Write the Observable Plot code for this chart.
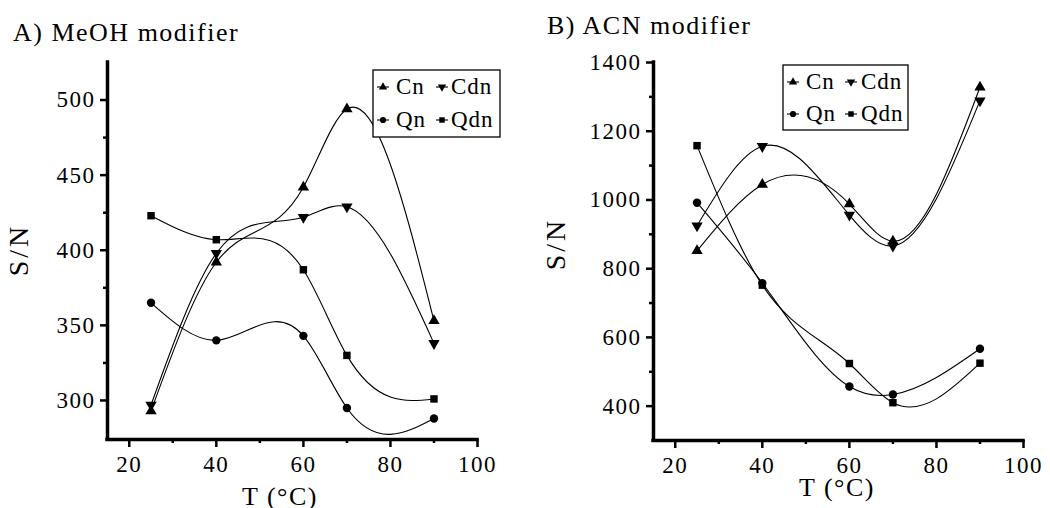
<!DOCTYPE html>
<html><head><meta charset="utf-8">
<script src="https://cdn.jsdelivr.net/npm/d3@7"></script>
<script src="https://cdn.jsdelivr.net/npm/@observablehq/plot@0.6"></script>
<style>
body{margin:0;background:#fff;}
#wrap{position:relative;width:1050px;height:508px;overflow:hidden;}
#wrap svg{position:absolute;top:0;overflow:visible;}
</style></head><body><div id="wrap"></div>
<script>
// ---- data ----
const temps = [25, 40, 60, 70, 90];
const series = ["Cn", "Cdn", "Qn", "Qdn"];
const meohCn  = [293, 392, 442, 494, 353];
const meohCdn = [297, 398, 422, 429, 338];
const meohQn  = [365, 340, 343, 295, 288];
const meohQdn = [423, 407, 387, 330, 301];
const acnCn  = [852, 1045, 988, 880, 1328];
const acnCdn = [925, 1156, 956, 866, 1289];
const acnQn  = [992, 758, 457, 434, 567];
const acnQdn = [1158, 752, 524, 410, 525];
const xTicks = [20, 40, 60, 80, 100];
const xMinor = [30, 50, 70, 90];
const yTicksA = [300, 350, 400, 450, 500];
const yMinorA = [325, 375, 425, 475];
const yTicksB = [400, 600, 800, 1000, 1200, 1400];
const yMinorB = [500, 700, 900, 1100, 1300];
const titles = ["A) MeOH modifier", "B) ACN modifier"];
const xLabel = "T (°C)";
const yLabel = "S/N";

const FONT = '"Liberation Serif","Times New Roman",serif';

// natural cubic spline with x as the independent variable (as in Origin's spline connection)
class XNatural {
  constructor(ctx) { this._context = ctx; }
  areaStart() {} areaEnd() {}
  lineStart() { this._x = []; this._y = []; }
  point(x, y) { this._x.push(+x); this._y.push(+y); }
  lineEnd() {
    const x = this._x, y = this._y, n = x.length, c = this._context;
    if (!n) return;
    c.moveTo(x[0], y[0]);
    if (n === 2) { c.lineTo(x[1], y[1]); return; }
    const h = [];
    for (let i = 0; i < n - 1; i++) h[i] = x[i + 1] - x[i];
    const M = new Array(n).fill(0), a = [], b = [], cc = [], d = [];
    for (let i = 1; i < n - 1; i++) {
      a[i] = h[i - 1]; b[i] = 2 * (h[i - 1] + h[i]); cc[i] = h[i];
      d[i] = 6 * ((y[i + 1] - y[i]) / h[i] - (y[i] - y[i - 1]) / h[i - 1]);
    }
    for (let i = 2; i < n - 1; i++) { const w = a[i] / b[i - 1]; b[i] -= w * cc[i - 1]; d[i] -= w * d[i - 1]; }
    M[n - 2] = d[n - 2] / b[n - 2];
    for (let i = n - 3; i >= 1; i--) M[i] = (d[i] - cc[i] * M[i + 1]) / b[i];
    for (let i = 0; i < n - 1; i++) {
      const hi = h[i], dy = (y[i + 1] - y[i]) / hi;
      const s0 = dy - hi * (2 * M[i] + M[i + 1]) / 6;
      const s1 = dy + hi * (M[i] + 2 * M[i + 1]) / 6;
      c.bezierCurveTo(x[i] + hi / 3, y[i] + s0 * hi / 3, x[i + 1] - hi / 3, y[i + 1] - s1 * hi / 3, x[i + 1], y[i + 1]);
    }
  }
}
const xNatural = ctx => new XNatural(ctx);

const downTriangle = {
  draw(context, size) {
    const y = -Math.sqrt(size / (Math.sqrt(3) * 3));
    context.moveTo(0, -y * 2);
    context.lineTo(-Math.sqrt(3) * y, y);
    context.lineTo(Math.sqrt(3) * y, y);
    context.closePath();
  }
};
const symbolFor = {Cn: "triangle", Cdn: downTriangle, Qn: "circle", Qdn: "square"};

function panel(cfg) {
  const data = series.flatMap((s, i) => temps.map((t, j) => ({series: s, T: t, SN: cfg.values[i][j]})));
  const marks = [
    Plot.axisX({ticks: xTicks, tickSize: 8, tickPadding: 8, strokeWidth: 2.5, fontSize: 23, label: null, tickFormat: d => String(d)}),
    Plot.axisX({ticks: xMinor, tickSize: 4, strokeWidth: 2.5, text: null, label: null}),
    Plot.axisY({ticks: cfg.yTicks, tickSize: 7, tickPadding: 5, strokeWidth: 2.5, fontSize: 23, label: null, tickFormat: d => String(d)}),
    Plot.axisY({ticks: cfg.yMinor, tickSize: 4, strokeWidth: 2.5, text: null, label: null}),
    Plot.ruleY([cfg.ydomain[0]], {stroke: "black", strokeWidth: 3.5, strokeLinecap: "square"}),
    Plot.ruleX([15], {stroke: "black", strokeWidth: 3.5, strokeLinecap: "square"}),
    Plot.line(data, {x: "T", y: "SN", z: "series", curve: xNatural, stroke: "black", strokeWidth: 1.1})
  ];
  for (const s of series) {
    marks.push(Plot.dot(data.filter(d => d.series === s), {x: "T", y: "SN", symbol: symbolFor[s], r: 4.2, fill: "black", stroke: "none"}));
  }
  const svg = Plot.plot({
    width: 525, height: 508,
    marginLeft: cfg.ml, marginRight: cfg.mr, marginTop: 62, marginBottom: cfg.mb,
    style: {fontFamily: FONT, fontSize: "23px", background: "transparent", color: "#000", letterSpacing: "1.5px", overflow: "visible"},
    x: {domain: [15, 100]},
    y: {domain: cfg.ydomain},
    marks
  });
  svg.style.left = cfg.left + "px";
  const g = d3.select(svg).append("g").attr("font-family", FONT).attr("fill", "#000");
  g.append("text").attr("x", cfg.title[0]).attr("y", cfg.title[1]).attr("text-anchor", "start").attr("font-size", 26).attr("letter-spacing", "1.5px").text(cfg.titleText);
  g.append("text").attr("x", cfg.xl[0]).attr("y", cfg.xl[1]).attr("text-anchor", "middle").attr("font-size", 26).attr("letter-spacing", "1.5px").text(xLabel);
  g.append("text").attr("transform", `translate(${cfg.yl[0]},${cfg.yl[1]}) rotate(-90)`).attr("text-anchor", "middle").attr("font-size", 28).attr("letter-spacing", "3px").text(yLabel);
  // legend
  const L = cfg.legend;
  g.append("rect").attr("x", L.x).attr("y", L.y).attr("width", L.w).attr("height", L.h).attr("fill", "white").attr("stroke", "black").attr("stroke-width", 1.3);
  const items = [
    {s: "Cn", col: 0, row: 0, sym: d3.symbolTriangle, rot: 0},
    {s: "Cdn", col: 1, row: 0, sym: d3.symbolTriangle, rot: 180},
    {s: "Qn", col: 0, row: 1, sym: d3.symbolCircle, rot: 0},
    {s: "Qdn", col: 1, row: 1, sym: d3.symbolSquare, rot: 0}
  ];
  for (const it of items) {
    const sx = L.symX[it.col], tx = L.txtX[it.col], base = L.base[it.row];
    const cy = base - 7;
    g.append("line").attr("x1", sx - 6).attr("x2", sx + 6).attr("y1", cy).attr("y2", cy).attr("stroke", "black").attr("stroke-width", 1.1);
    g.append("path").attr("d", d3.symbol(it.sym, 30)()).attr("transform", `translate(${sx},${cy}) rotate(${it.rot})`).attr("fill", "black");
    g.append("text").attr("x", tx).attr("y", base).attr("text-anchor", "start").attr("font-size", 23).attr("letter-spacing", "1px").text(it.s);
  }
  return svg;
}

const wrap = document.getElementById("wrap");
wrap.append(panel({
  left: 0, ml: 107, mr: 48, mb: 69, ydomain: [274, 525],
  values: [meohCn, meohCdn, meohQn, meohQdn], yTicks: yTicksA, yMinor: yMinorA,
  titleText: titles[0], title: [13, 41], xl: [280, 505], yl: [28, 250],
  legend: {x: 373, y: 70, w: 127, h: 67, symX: [383, 442], txtX: [396, 451], base: [94, 127]}
}));
wrap.append(panel({
  left: 525, ml: 128, mr: 27, mb: 68, ydomain: [300, 1400],
  values: [acnCn, acnCdn, acnQn, acnQdn], yTicks: yTicksB, yMinor: yMinorB,
  titleText: titles[1], title: [22, 34], xl: [312, 496], yl: [40, 244],
  legend: {x: 258, y: 65, w: 125, h: 65, symX: [268, 326], txtX: [281, 336], base: [89, 121]}
}));
</script></body></html>
